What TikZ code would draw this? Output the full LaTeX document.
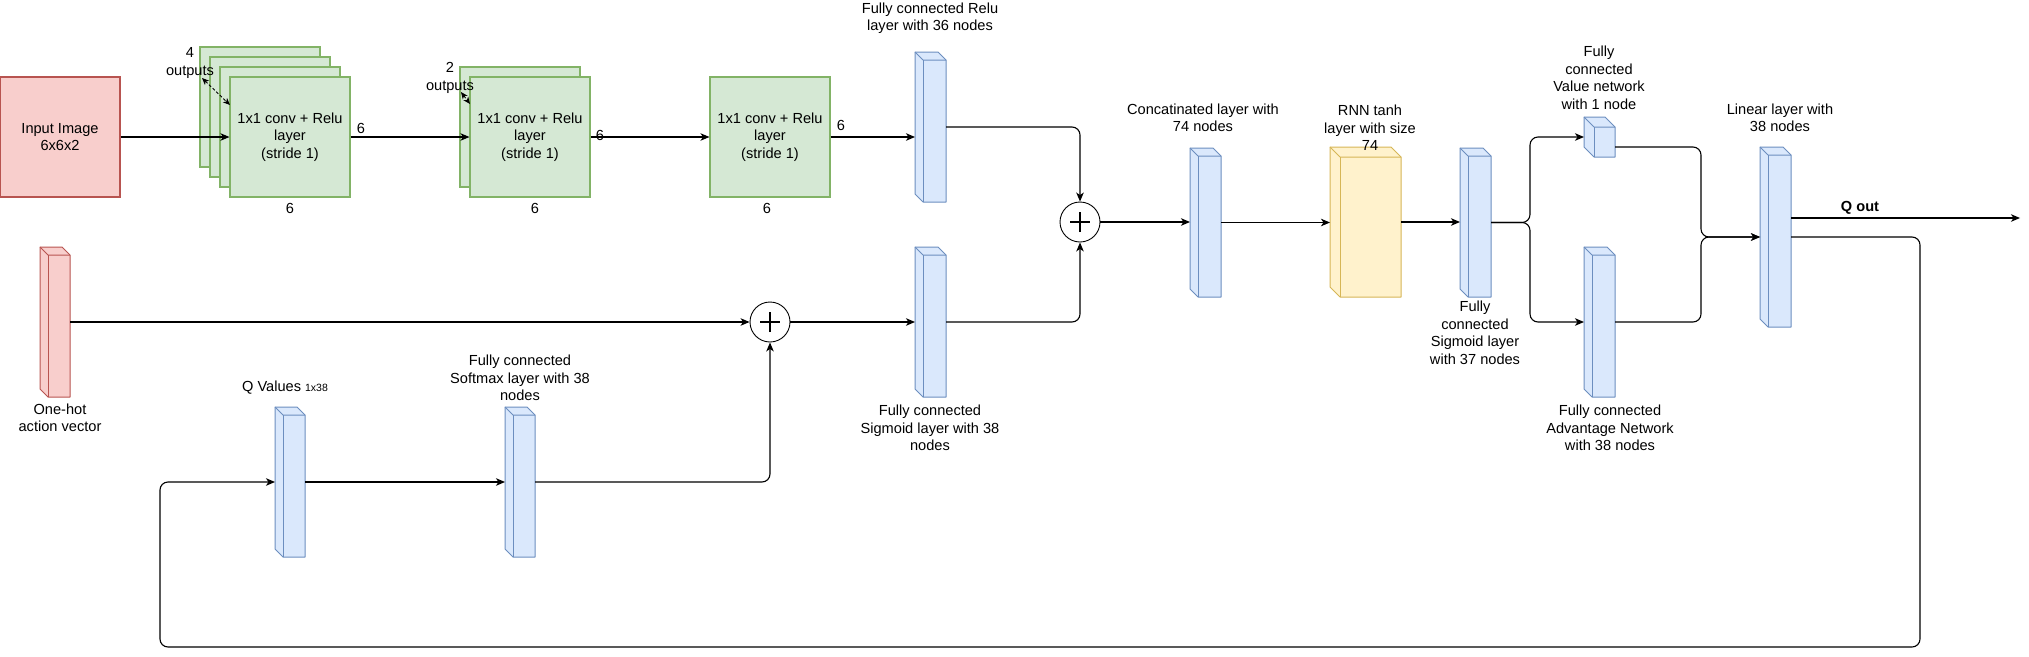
\documentclass[tikz,border=0pt]{standalone}
\usepackage{fontspec}
\setmainfont{Liberation Sans}
\usetikzlibrary{arrows.meta,calc}
\definecolor{redfill}{HTML}{F8CECC}
\definecolor{redline}{HTML}{B85450}
\definecolor{greenfill}{HTML}{D5E8D4}
\definecolor{greenline}{HTML}{82B366}
\definecolor{bluefill}{HTML}{DAE8FC}
\definecolor{blueline}{HTML}{6C8EBF}
\definecolor{yellowfill}{HTML}{FFF2CC}
\definecolor{yellowline}{HTML}{D6B656}
% name, x, y, w, h, depth, style
\newcommand{\cubenode}[7]{%
  \node[cubebb, minimum width=#4pt, minimum height=#5pt] (#1) at ({#2+#4/2},{#3+#5/2}) {};
  \filldraw[#7] (#1.north west) -- ([xshift=-#6pt]#1.north east) -- ([yshift=-#6pt]#1.north east) -- (#1.south east) -- ([xshift=#6pt]#1.south west) -- ([yshift=#6pt]#1.south west) -- cycle;
  \draw[#7, fill=none] (#1.north west) -- ([xshift=#6pt,yshift=-#6pt]#1.north west) -- ([yshift=-#6pt]#1.north east);
  \draw[#7, fill=none] ([xshift=#6pt,yshift=-#6pt]#1.north west) -- ([xshift=#6pt]#1.south west);
}
\begin{document}
\begin{tikzpicture}[x=1pt,y=-1pt,
  every node/.style={font=\fontsize{14.6}{17.5}\selectfont},
  lbl/.style={align=center, inner sep=0pt},
  cubebb/.style={rectangle, draw=none, inner sep=0pt, outer sep=0pt},
  bluecube/.style={fill=bluefill, draw=blueline, line width=1pt, line join=round},
  redcube/.style={fill=redfill, draw=redline, line width=1pt, line join=round},
  yellowcube/.style={fill=yellowfill, draw=yellowline, line width=1pt, line join=round},
  greenbox/.style={rectangle, fill=greenfill, draw=greenline, line width=1.1pt, minimum width=120pt, minimum height=120pt, inner sep=0pt, align=center},
  redbox/.style={rectangle, fill=redfill, draw=redline, line width=1.1pt, minimum width=120pt, minimum height=120pt, inner sep=0pt, align=center},
  plusnode/.style={circle, draw, line width=0.9pt, minimum size=40pt, inner sep=0pt},
  edge/.style={line width=1.1pt, -{Stealth[length=9pt,width=7.5pt,inset=2.5pt]}, rounded corners=8pt},
  dashedge/.style={line width=0.9pt, dashed, dash pattern=on 3pt off 2pt, {Stealth[length=7pt,width=6pt,inset=2pt]}-{Stealth[length=7pt,width=6pt,inset=2pt]}}
]
\useasboundingbox (0,0) rectangle (2029,656);

% input image
\node[redbox] (input) at (60,137) {Input Image\\6x6x2};

% conv stack 1
\node[greenbox] (c1b3) at (260,107) {};
\node[greenbox] (c1b2) at (270,117) {};
\node[greenbox] (c1b1) at (280,127) {};
\node[greenbox] (conv1) at (290,137) {1x1 conv + Relu\\layer\\(stride 1)};
\node[lbl] (o4) at (190,63) {4\\outputs};
\coordinate (o4a) at (202,78);
\coordinate (o4b) at (230,105);
\draw[dashedge] (o4a) -- (o4b);
\node[lbl] (c1r) at (361,128) {6};
\node[lbl] (c1d) at (290,208) {6};

% conv stack 2
\node[greenbox] (c2b1) at (520,127) {};
\node[greenbox] (conv2) at (530,137) {1x1 conv + Relu\\layer\\(stride 1)};
\node[lbl] (o2) at (450,78) {2\\outputs};
\coordinate (o2a) at (461,92);
\coordinate (o2b) at (470,104);
\draw[dashedge] (o2a) -- (o2b);
\node[lbl] (c2r) at (600,135) {6};
\node[lbl] (c2d) at (535,208) {6};

% conv 3
\node[greenbox] (conv3) at (770,137) {1x1 conv + Relu\\layer\\(stride 1)};
\node[lbl] (c3r) at (841,125) {6};
\node[lbl] (c3d) at (767,208) {6};

% cubes
\cubenode{relu}{915}{52}{31}{150}{8}{bluecube}
\cubenode{sigA}{915}{247}{31}{150}{8}{bluecube}
\cubenode{concat}{1190}{148}{31}{149}{8}{bluecube}
\cubenode{rnn}{1330}{147}{71}{150}{10}{yellowcube}
\cubenode{sigB}{1460}{148}{31}{149}{8}{bluecube}
\cubenode{value}{1584}{117}{31}{40}{10}{bluecube}
\cubenode{adv}{1584}{247}{31}{150}{8}{bluecube}
\cubenode{linear}{1760}{147}{31}{180}{8}{bluecube}
\cubenode{onehot}{40}{247}{30}{150}{8}{redcube}
\cubenode{qval}{275}{407}{30}{150}{8}{bluecube}
\cubenode{softmax}{505}{407}{30}{150}{8}{bluecube}

% plus circles
\node[plusnode] (plusA) at (1080,222) {};
\draw[line width=2.3pt] ([xshift=-10pt]plusA.center) -- ([xshift=10pt]plusA.center);
\draw[line width=2.3pt] ([yshift=-10pt]plusA.center) -- ([yshift=10pt]plusA.center);
\node[plusnode] (plusB) at (770,322) {};
\draw[line width=2.3pt] ([xshift=-10pt]plusB.center) -- ([xshift=10pt]plusB.center);
\draw[line width=2.3pt] ([yshift=-10pt]plusB.center) -- ([yshift=10pt]plusB.center);

% labels
\node[lbl] (lrelu) at (930,18) {Fully connected Relu\\layer with 36 nodes};
\node[lbl] (lsigA) at (930,428) {Fully connected\\Sigmoid layer with 38\\nodes};
\node[lbl] (lconcat) at (1203,118) {Concatinated layer with\\74 nodes};
\node[lbl] (lrnn) at (1370,128) {RNN tanh\\layer with size\\74};
\node[lbl] (lsigB) at (1475,333) {Fully\\connected\\Sigmoid layer\\with 37 nodes};
\node[lbl] (lvalue) at (1599,78) {Fully\\connected\\Value network\\with 1 node};
\node[lbl] (ladv) at (1610,428) {Fully connected\\Advantage Network\\with 38 nodes};
\node[lbl] (llinear) at (1780,118) {Linear layer with\\38 nodes};
\node[lbl] (lqout) at (1860,208) {\textbf{Q out}};
\node[lbl] (lonehot) at (60,418) {One-hot\\action vector};
\node[lbl] (lqval) at (285,388) {Q Values {\fontsize{10.5}{12}\selectfont 1x38}};
\node[lbl] (lsoftmax) at (520,378) {Fully connected\\Softmax layer with 38\\nodes};

% connectors
\draw[edge] (input) -- (conv1);
\draw[edge] (conv1) -- (conv2);
\draw[edge] (conv2) -- (conv3);
\draw[edge] (conv3.east) -- (conv3.east -| relu.west);
\draw[edge] (relu.east) -| (plusA.north);
\draw[edge] (sigA.east) -| (plusA.south);
\draw[edge] (onehot.east) -- (plusB.west);
\draw[edge] (plusB.east) -- (sigA.west);
\draw[edge] (plusA.east) -- (plusA.east -| concat.west);
\draw[edge] (concat.east) -- (concat.east -| rnn.west);
\draw[edge] (rnn.east) -- (rnn.east -| sigB.west);
\coordinate (split) at (1530,222.5);
\draw[edge] (sigB.east) -- (split) |- (value.west);
\draw[edge] (sigB.east) -- (split) |- (adv.west);
\coordinate (join) at (1701,237);
\draw[edge] ([yshift=-10pt]value.east) -| (join) -- (linear.west);
\draw[edge] (adv.east) -| (join) -- (linear.west);
\coordinate (qend) at (2020,218);
\draw[edge] ([yshift=19pt]linear.east) -- (qend);
\coordinate (lr) at (1920,647);
\coordinate (ll) at (160,647);
\draw[edge] (linear.east) -| (lr) -- (ll) |- (qval.west);
\draw[edge] (qval.east) -- (softmax.west);
\draw[edge] (softmax.east) -| (plusB.south);
\end{tikzpicture}
\end{document}
